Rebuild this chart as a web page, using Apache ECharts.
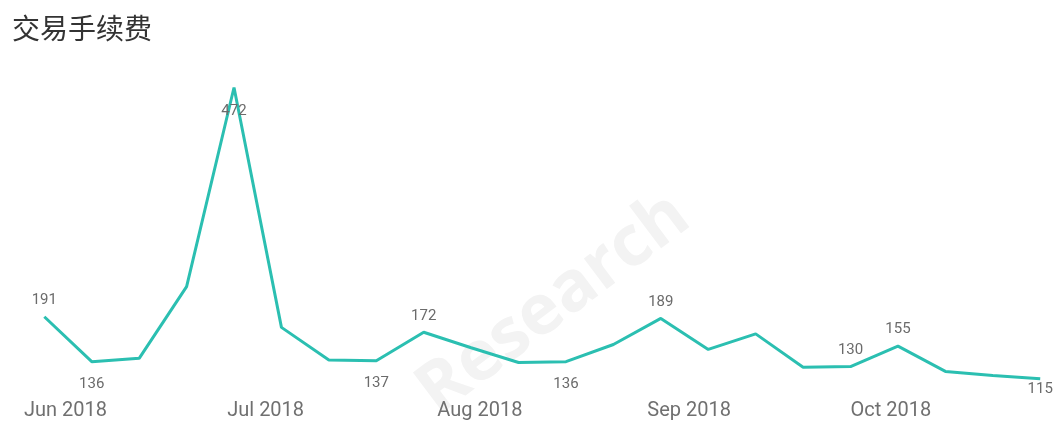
<!DOCTYPE html>
<html lang="zh">
<head>
<meta charset="UTF-8">
<title>交易手续费</title>
<style>
  html, body { margin: 0; padding: 0; background: #fff; }
  #main { width: 1055px; height: 422px; }
</style>
</head>
<body>
<div id="main"></div>
<script src="https://cdn.jsdelivr.net/npm/echarts@6/dist/echarts.min.js"></script>
<script>
// weekly points
var dates = ['2018-06-04', '2018-06-11', '2018-06-18', '2018-06-25', '2018-07-02', '2018-07-09',
             '2018-07-16', '2018-07-23', '2018-07-30', '2018-08-06', '2018-08-13', '2018-08-20',
             '2018-08-27', '2018-09-03', '2018-09-10', '2018-09-17', '2018-09-24', '2018-10-01',
             '2018-10-08', '2018-10-15', '2018-10-22', '2018-10-29'];
var fees = [191, 136, 140, 228, 472, 178, 138, 137, 172, 153, 135, 136,
            157, 189, 151, 170, 129, 130, 155, 124, 119, 115];
// which points carry a value label
var labelAbove = [0, 8, 13, 17, 18];
var labelBelow = [1, 4, 7, 11, 21];

var myChart = echarts.init(document.getElementById('main'));

var seriesData = [];
for (var i = 0; i < dates.length; i++) {
    var item = { value: [dates[i], fees[i]] };
    if (labelAbove.indexOf(i) >= 0) {
        item.label = { show: true, position: 'top', distance: 9 };
    } else if (labelBelow.indexOf(i) >= 0) {
        var dist = 15;
        if (i == 4) dist = 16;
        if (i == 21) dist = 3;
        item.label = { show: true, position: 'bottom', distance: dist };
    }
    seriesData.push(item);
}

var option = {
    backgroundColor: '#fff',
    animation: false,
    title: {
        text: '交易手续费',
        left: 7,
        top: 9,
        textStyle: { fontFamily: 'Noto Sans CJK SC', fontSize: 28, fontWeight: 'normal', color: '#333' }
    },
    graphic: [{
        type: 'text',
        left: 405,
        top: 180,
        rotation: 37 * Math.PI / 180,
        originX: 180, originY: 45,
        silent: true,
        style: {
            text: 'Research',
            font: 'bold 70px "Open Sans"',
            fill: '#f3f3f3'
        },
        z: -10
    }],
    grid: {
        left: 24,
        right: 8,
        top: 81,
        bottom: 31,
        containLabel: false
    },
    xAxis: {
        type: 'time',
        min: '2018-06-01',
        max: '2018-10-30',
        splitNumber: 5,
        axisLine: { show: false },
        axisTick: { show: false },
        splitLine: { show: false },
        axisLabel: {
            align: 'left',
            margin: 10,
            fontFamily: 'Roboto',
            fontSize: 20,
            color: '#707070',
            hideOverlap: false,
            showMinLabel: true,
            formatter: function (val) {
                var d = new Date(val);
                if (d.getDate() !== 1) return '';
                var m = ['Jan', 'Feb', 'Mar', 'Apr', 'May', 'Jun', 'Jul', 'Aug', 'Sep', 'Oct', 'Nov', 'Dec'];
                return m[d.getMonth()] + ' ' + d.getFullYear();
            }
        }
    },
    yAxis: {
        type: 'value',
        min: 100,
        max: 480,
        show: false,
        splitLine: { show: false }
    },
    series: [{
        type: 'line',
        data: seriesData,
        symbol: 'circle',
        symbolSize: 0,
        showSymbol: true,
        lineStyle: { color: '#2bbfb1', width: 3 },
        itemStyle: { color: '#2bbfb1' },
        label: {
            show: false,
            fontFamily: 'Roboto',
            fontSize: 15,
            color: '#6b6b6b',
            formatter: function (p) { return p.value[1]; }
        },
        labelLayout: { hideOverlap: false }
    }]
};
myChart.setOption(option);
</script>
</body>
</html>
